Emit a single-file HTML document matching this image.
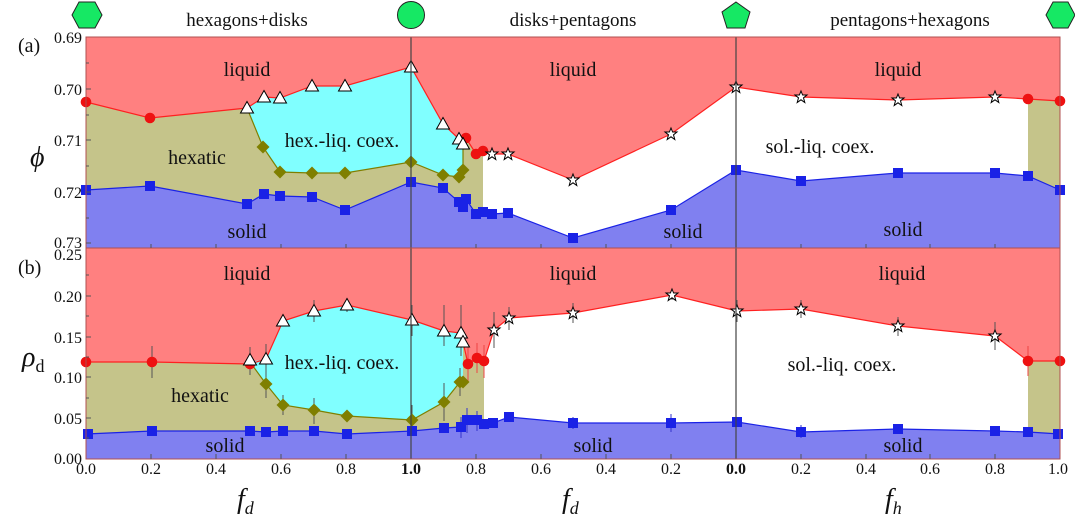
<!DOCTYPE html>
<html><head><meta charset="utf-8"><style>
html,body{margin:0;padding:0;background:#fff}
svg{display:block}
text{font-family:"Liberation Serif",serif;fill:#111}
</style></head><body>
<svg width="1075" height="519" viewBox="0 0 1075 519" xmlns="http://www.w3.org/2000/svg">
<defs>
<g id="tri"><polygon points="0,-6.5 6.5,5 -6.5,5" fill="#fff" stroke="#000" stroke-width="1"/></g>
<g id="star"><polygon points="0,-6 1.6,-2 6,-2 2.5,0.8 3.8,5.5 0,2.8 -3.8,5.5 -2.5,0.8 -6,-2 -1.6,-2" fill="#fff" stroke="#000" stroke-width="1"/></g>
<g id="cir"><circle r="5.3" fill="#ee1111"/></g>
<g id="sq"><rect x="-5" y="-5" width="10" height="10" fill="#1a22e6"/></g>
<g id="dia"><polygon points="0,-6.5 6.5,0 0,6.5 -6.5,0" fill="#7f7f00"/></g>
</defs>

<rect x="86" y="37" width="974" height="211" fill="#ff8080"/>
<polygon fill="#c5c48a" points="86,102 150,118 247,108 264,97 280,98 312,86 345,86 411,67 443,124 459,139 463,144 466,138 476,154 483,151 483,248 86,248"/>
<polygon fill="#fff" points="483,151 492,154 508,154 573,180 671,134 736,87 801,97 898,100 995,97 1028,99 1028,248 483,248"/>
<polygon fill="#c5c48a" points="1028,99 1060,101 1060,248 1028,248"/>
<polygon fill="#80ffff" points="247,108 264,97 280,98 312,86 345,86 411,67 443,124 459,139 463,144 463,170 459,177 443,175 411,162 345,173 312,173 280,172 263,147"/>
<polygon fill="#8080f0" points="86,190 150,186 247,204 264,194 280,196 312,197 345,210 411,182 443,188 459,202 463,207 466,199 476,214 483,212 492,214 508,213 573,238 671,210 736,170 801,181 898,173 995,173 1028,176 1060,190 1060,248 86,248"/>
<g fill="none" stroke-width="1.2">
<polyline stroke="#ff2020" points="86,102 150,118 247,108 264,97 280,98 312,86 345,86 411,67 443,124 459,139 466,138 476,154 483,151 492,154 508,154 573,180 671,134 736,87 801,97 898,100 995,97 1028,99 1060,101"/>
<polyline stroke="#7f7f00" points="247,108 263,147 280,172 312,173 345,173 411,162 443,175 459,177 463,170 463,144"/>
<polyline stroke="#1a22e6" points="86,190 150,186 247,204 264,194 280,196 312,197 345,210 411,182 443,188 459,202 463,207 466,199 476,214 483,212 492,214 508,213 573,238 671,210 736,170 801,181 898,173 995,173 1028,176 1060,190"/>
</g>

<rect x="86" y="248" width="974" height="211" fill="#ff8080"/>
<polygon fill="#c5c48a" points="86,362 152,362 250,364 266,359 283,321 314,311 347,305 412,320 444,331 461,333 463,342 468,364 477,358 484,361 484,459 86,459"/>
<polygon fill="#fff" points="484,361 494,330 509,318 573,313 672,295 737,311 801,309 898,326 995,336 1028,361 1028,459 484,459"/>
<polygon fill="#c5c48a" points="1028,361 1060,361 1060,459 1028,459"/>
<polygon fill="#80ffff" points="250,362 266,359 283,321 314,311 347,305 412,320 444,331 461,333 463,342 463,382 460,382 444,402 412,420 347,416 314,410 283,405 266,384"/>
<polygon fill="#8080f0" points="86,434 152,431 250,431 266,432 283,431 314,431 347,434 412,431 444,428 461,427 467,420 477,420 484,424 493,423 509,417 573,423 671,423 737,422 801,432 898,429 995,431 1028,432 1060,434 1060,459 86,459"/>
<g fill="none" stroke-width="1.2">
<polyline stroke="#ff2020" points="86,362 152,362 250,364 266,359 283,321 314,311 347,305 412,320 444,331 461,333 463,342 468,364 477,358 484,361 494,330 509,318 573,313 672,295 737,311 801,309 898,326 995,336 1028,361 1060,361"/>
<polyline stroke="#7f7f00" points="250,362 266,384 283,405 314,410 347,416 412,420 444,402 460,382 463,382"/>
<polyline stroke="#1a22e6" points="86,434 152,431 250,431 266,432 283,431 314,431 347,434 412,431 444,428 461,427 467,420 477,420 484,424 493,423 509,417 573,423 671,423 737,422 801,432 898,429 995,431 1028,432 1060,434"/>
</g>
<g stroke="#555" stroke-width="1" fill="none">
<path d="M152,346V378M266,344V374M314,300V322M347,298V312M412,305V336M444,305V346M461,305V356M494,312V348M509,307V330M573,303V323M672,290V300M737,300V322M801,300V318M898,317V336M995,322V350"/>
<path d="M250,347V375M266,370V398M283,395V415M314,398V424M347,410V422M412,405V434M444,383V421M460,368V396"/>
<path d="M468,347V383M477,343V373M484,345V378M1028,346V376M1060,345V378" stroke="#e44"/>
<path d="M467,408V433M461,417V438M477,411V431M573,417V429M671,414V432M801,425V438M898,424V434M250,426V436" stroke="#33c"/>
</g>

<g>
<use href="#cir" x="86" y="102"/><use href="#cir" x="150" y="118"/>
<use href="#cir" x="466" y="138"/><use href="#cir" x="476" y="154"/><use href="#cir" x="483" y="151"/>
<use href="#cir" x="1028" y="99"/><use href="#cir" x="1060" y="101"/>
<use href="#tri" x="247" y="108"/><use href="#tri" x="264" y="97"/><use href="#tri" x="280" y="98"/><use href="#tri" x="312" y="86"/><use href="#tri" x="345" y="86"/><use href="#tri" x="411" y="67"/><use href="#tri" x="443" y="124"/><use href="#tri" x="459" y="139"/><use href="#tri" x="463" y="144"/>
<use href="#star" x="492" y="154"/><use href="#star" x="508" y="154"/><use href="#star" x="573" y="180"/><use href="#star" x="671" y="134"/><use href="#star" x="736" y="87"/><use href="#star" x="801" y="97"/><use href="#star" x="898" y="100"/><use href="#star" x="995" y="97"/>
<use href="#dia" x="263" y="147"/><use href="#dia" x="280" y="172"/><use href="#dia" x="312" y="173"/><use href="#dia" x="345" y="173"/><use href="#dia" x="411" y="162"/><use href="#dia" x="443" y="175"/><use href="#dia" x="459" y="177"/><use href="#dia" x="463" y="170"/>
<use href="#sq" x="86" y="190"/><use href="#sq" x="150" y="186"/><use href="#sq" x="247" y="204"/><use href="#sq" x="264" y="194"/><use href="#sq" x="280" y="196"/><use href="#sq" x="312" y="197"/><use href="#sq" x="345" y="210"/><use href="#sq" x="411" y="182"/><use href="#sq" x="443" y="188"/><use href="#sq" x="459" y="202"/><use href="#sq" x="463" y="207"/><use href="#sq" x="466" y="199"/><use href="#sq" x="476" y="214"/><use href="#sq" x="483" y="212"/><use href="#sq" x="492" y="214"/><use href="#sq" x="508" y="213"/><use href="#sq" x="573" y="238"/><use href="#sq" x="671" y="210"/><use href="#sq" x="736" y="170"/><use href="#sq" x="801" y="181"/><use href="#sq" x="898" y="173"/><use href="#sq" x="995" y="173"/><use href="#sq" x="1028" y="176"/><use href="#sq" x="1060" y="190"/>
</g>
<g>
<use href="#cir" x="86" y="362"/><use href="#cir" x="152" y="362"/><use href="#cir" x="250" y="364"/>
<use href="#cir" x="468" y="364"/><use href="#cir" x="477" y="358"/><use href="#cir" x="484" y="361"/>
<use href="#cir" x="1028" y="361"/><use href="#cir" x="1060" y="361"/>
<use href="#tri" x="250" y="360"/><use href="#tri" x="266" y="359"/><use href="#tri" x="283" y="321"/><use href="#tri" x="314" y="311"/><use href="#tri" x="347" y="305"/><use href="#tri" x="412" y="320"/><use href="#tri" x="444" y="331"/><use href="#tri" x="461" y="333"/><use href="#tri" x="463" y="342"/>
<use href="#star" x="494" y="330"/><use href="#star" x="509" y="318"/><use href="#star" x="573" y="313"/><use href="#star" x="672" y="295"/><use href="#star" x="737" y="311"/><use href="#star" x="801" y="309"/><use href="#star" x="898" y="326"/><use href="#star" x="995" y="336"/>
<use href="#dia" x="266" y="384"/><use href="#dia" x="283" y="405"/><use href="#dia" x="314" y="410"/><use href="#dia" x="347" y="416"/><use href="#dia" x="412" y="420"/><use href="#dia" x="444" y="402"/><use href="#dia" x="460" y="382"/><use href="#dia" x="463" y="382"/>
<use href="#sq" x="88" y="434"/><use href="#sq" x="152" y="431"/><use href="#sq" x="250" y="431"/><use href="#sq" x="266" y="432"/><use href="#sq" x="283" y="431"/><use href="#sq" x="314" y="431"/><use href="#sq" x="347" y="434"/><use href="#sq" x="412" y="431"/><use href="#sq" x="444" y="428"/><use href="#sq" x="461" y="427"/><use href="#sq" x="467" y="420"/><use href="#sq" x="477" y="420"/><use href="#sq" x="484" y="424"/><use href="#sq" x="493" y="423"/><use href="#sq" x="509" y="417"/><use href="#sq" x="573" y="423"/><use href="#sq" x="671" y="423"/><use href="#sq" x="737" y="422"/><use href="#sq" x="801" y="432"/><use href="#sq" x="898" y="429"/><use href="#sq" x="995" y="431"/><use href="#sq" x="1028" y="432"/><use href="#sq" x="1058" y="434"/>
</g>

<g stroke="#444" stroke-width="1.2">
<line x1="411" y1="37" x2="411" y2="459"/>
<line x1="736" y1="37" x2="736" y2="459"/>
</g>
<rect x="86" y="37" width="974" height="211" fill="none" stroke="#b05050" stroke-width="1"/>
<rect x="86" y="248" width="974" height="211" fill="none" stroke="#b05050" stroke-width="1"/>
<g stroke="#555" stroke-width="1">
<path d="M86,89h5M86,140h5M86,192h5M86,243h5M86,63h3M86,115h3M86,166h3M86,218h3"/>
<path d="M86,296h5M86,337h5M86,377h5M86,418h5M86,275h3M86,316h3M86,357h3M86,398h3M86,438h3"/>
<path d="M151,459v-5M216,459v-5M281,459v-5M346,459v-5M476,459v-5M541,459v-5M606,459v-5M671,459v-5M801,459v-5M866,459v-5M930,459v-5M995,459v-5"/>
<path d="M151,248v-4M216,248v-4M281,248v-4M346,248v-4M476,248v-4M541,248v-4M606,248v-4M671,248v-4M801,248v-4M866,248v-4M930,248v-4M995,248v-4"/>
</g>

<g font-size="16" text-anchor="end">
<text x="82" y="43">0.69</text><text x="82" y="95">0.70</text><text x="82" y="146">0.71</text><text x="82" y="198">0.72</text><text x="82" y="248">0.73</text>
<text x="82" y="260">0.25</text><text x="82" y="302">0.20</text><text x="82" y="343">0.15</text><text x="82" y="383">0.10</text><text x="82" y="424">0.05</text><text x="82" y="464">0.00</text>
</g>
<g font-size="16" text-anchor="middle">
<text x="86" y="474">0.0</text><text x="151" y="474">0.2</text><text x="216" y="474">0.4</text><text x="281" y="474">0.6</text><text x="346" y="474">0.8</text><text x="411" y="474" font-weight="bold">1.0</text>
<text x="476" y="474">0.8</text><text x="541" y="474">0.6</text><text x="606" y="474">0.4</text><text x="671" y="474">0.2</text><text x="736" y="474" font-weight="bold">0.0</text>
<text x="801" y="474">0.2</text><text x="866" y="474">0.4</text><text x="930" y="474">0.6</text><text x="995" y="474">0.8</text><text x="1058" y="474">1.0</text>
</g>
<g font-size="28" font-style="italic">
<text x="237" y="508">f<tspan font-size="18" dy="6">d</tspan></text>
<text x="562" y="508">f<tspan font-size="18" dy="6">d</tspan></text>
<text x="885" y="508">f<tspan font-size="18" dy="6">h</tspan></text>
<text x="30" y="166">ϕ</text>
<text x="22" y="366">ρ<tspan font-size="18" font-style="normal" dy="6">d</tspan></text>
</g>
<text x="18" y="52" font-size="20">(a)</text>
<text x="18" y="274" font-size="20">(b)</text>

<g font-size="19" text-anchor="middle">
<text x="247" y="26">hexagons+disks</text>
<text x="573" y="26">disks+pentagons</text>
<text x="910" y="26">pentagons+hexagons</text>
</g>
<g fill="#16e864" stroke="#222" stroke-width="1">
<polygon points="72,15 79,2 95,2 102,15 95,28 79,28"/>
<circle cx="411" cy="15" r="13.5"/>
<polygon points="736,2 750,12 745,28 727,28 722,12"/>
<polygon points="1046,15 1053,2 1068,2 1075,15 1068,28 1053,28"/>
</g>

<g font-size="20" text-anchor="middle">
<text x="247" y="76">liquid</text><text x="573" y="76">liquid</text><text x="898" y="76">liquid</text>
<text x="342" y="147">hex.-liq. coex.</text>
<text x="197" y="164">hexatic</text>
<text x="820" y="153">sol.-liq. coex.</text>
<text x="247" y="238">solid</text><text x="683" y="238">solid</text><text x="903" y="236">solid</text>
<text x="247" y="280">liquid</text><text x="573" y="280">liquid</text><text x="902" y="280">liquid</text>
<text x="342" y="369">hex.-liq. coex.</text>
<text x="200" y="402">hexatic</text>
<text x="842" y="371">sol.-liq. coex.</text>
<text x="225" y="452">solid</text><text x="593" y="452">solid</text><text x="903" y="452">solid</text>
</g>
</svg>
</body></html>
